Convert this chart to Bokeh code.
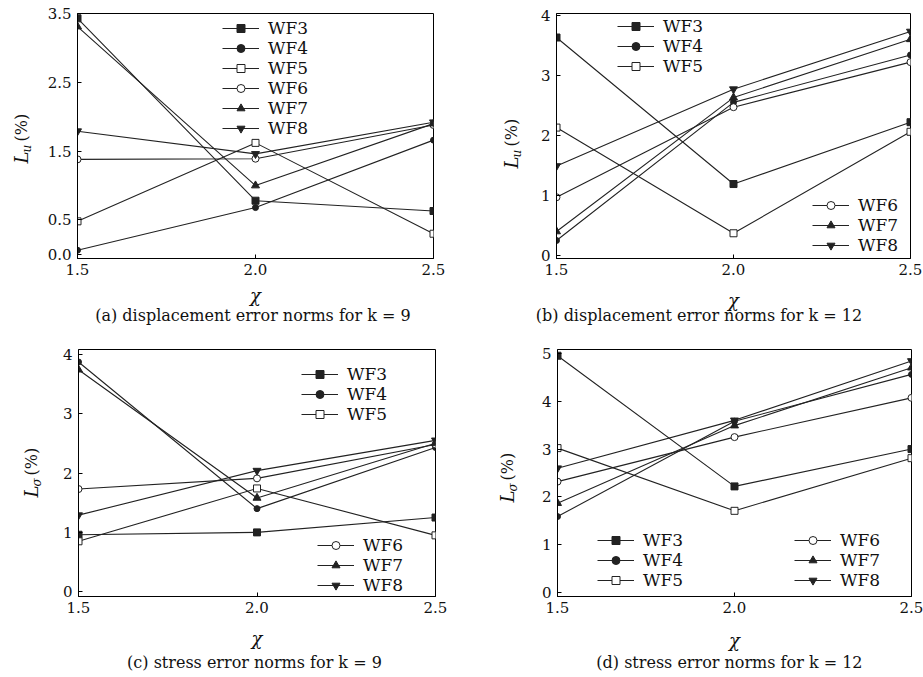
import math
from bokeh.plotting import figure
from bokeh.layouts import column, row
from bokeh.models import Range1d, FixedTicker, NumeralTickFormatter, Legend, LegendItem, Label
from bokeh.embed import file_html
from bokeh.resources import INLINE

# ---------------- data ----------------
chi = [1.5, 2.0, 2.5]
chi_ticks = [1.5, 2.0, 2.5]
series = ["WF3", "WF4", "WF5", "WF6", "WF7", "WF8"]

# (a) displacement error norms, k = 9
a_WF3 = [3.43, 0.78, 0.63]
a_WF4 = [0.06, 0.68, 1.66]
a_WF5 = [0.48, 1.62, 0.30]
a_WF6 = [1.38, 1.39, 1.88]
a_WF7 = [3.31, 1.00, 1.90]
a_WF8 = [1.79, 1.46, 1.92]
a_yticks = [0.0, 0.5, 1.5, 2.5, 3.5]

# (b) displacement error norms, k = 12
b_WF3 = [3.63, 1.19, 2.22]
b_WF4 = [0.25, 2.55, 3.34]
b_WF5 = [2.13, 0.37, 2.06]
b_WF6 = [0.97, 2.47, 3.22]
b_WF7 = [0.40, 2.63, 3.60]
b_WF8 = [1.49, 2.77, 3.73]
b_yticks = [0, 1, 2, 3, 4]

# (c) stress error norms, k = 9
c_WF3 = [0.96, 1.00, 1.25]
c_WF4 = [3.87, 1.40, 2.43]
c_WF5 = [0.85, 1.74, 0.95]
c_WF6 = [1.73, 1.91, 2.48]
c_WF7 = [3.74, 1.58, 2.50]
c_WF8 = [1.29, 2.04, 2.55]
c_yticks = [0, 1, 2, 3, 4]

# (d) stress error norms, k = 12
d_WF3 = [4.95, 2.22, 3.00]
d_WF4 = [1.59, 3.58, 4.56]
d_WF5 = [3.02, 1.71, 2.81]
d_WF6 = [2.32, 3.25, 4.07]
d_WF7 = [1.87, 3.49, 4.70]
d_WF8 = [2.60, 3.60, 4.84]
d_yticks = [0, 1, 2, 3, 4, 5]

captions = [
    "(a)  displacement error norms for k = 9",
    "(b)  displacement error norms for k = 12",
    "(c)  stress error norms for k = 9",
    "(d)  stress error norms  for k = 12",
]

# ---------------- styling ----------------
LINE = "#222222"
TXT = "#111111"
SERIF = "DejaVu Serif"
MARK = {
    "WF3": dict(marker="square", size=7, fill_color=LINE),
    "WF4": dict(marker="circle", size=6, fill_color=LINE),
    "WF5": dict(marker="square", size=7, fill_color="white"),
    "WF6": dict(marker="circle", size=7, fill_color="white"),
    "WF7": dict(marker="triangle", size=8, fill_color=LINE),
    "WF8": dict(marker="inverted_triangle", size=8, fill_color=LINE),
}


def panel(data, yr, yticks, yfmt, size, borders, legends, sub, ylab, caption, cap_dx, cap_dy,
          chi_dy, chi_side):
    W, H = size
    L, R, T, B = borders
    p = figure(width=W, height=H,
               min_border_left=L, min_border_right=R, min_border_top=T, min_border_bottom=B,
               x_range=Range1d(1.5, 2.5), y_range=Range1d(*yr),
               output_backend="svg", toolbar_location=None)
    p.grid.visible = False
    p.outline_line_color = "black"
    p.outline_line_width = 1
    for ax in (p.xaxis[0], p.yaxis[0]):
        ax.major_tick_in = 4
        ax.major_tick_out = 0
        ax.minor_tick_line_color = None
        ax.axis_line_color = "black"
        ax.major_tick_line_color = "black"
        ax.major_label_text_font = SERIF
        ax.major_label_text_font_size = "15px"
        ax.major_label_text_color = TXT
    p.xaxis.ticker = FixedTicker(ticks=chi_ticks)
    p.xaxis.formatter = NumeralTickFormatter(format="0.0")
    p.xaxis.major_label_standoff = 5
    p.yaxis.ticker = FixedTicker(ticks=yticks)
    p.yaxis.formatter = NumeralTickFormatter(format=yfmt)
    p.yaxis.major_label_standoff = 6

    rends = {}
    for name in series:
        ys = data[name]
        ln = p.line(chi, ys, line_color=LINE, line_width=1.1)
        m = MARK[name]
        sc = p.scatter(chi, ys, marker=m["marker"], size=m["size"], fill_color=m["fill_color"],
                       line_color=LINE, line_width=1)
        rends[name] = [ln, sc]

    for names, (lx, ly) in legends:
        items = [LegendItem(label=n, renderers=rends[n]) for n in names]
        lg = Legend(items=items, location=(lx, ly), orientation="vertical",
                    label_text_font=SERIF, label_text_font_size="17px", label_text_color=TXT,
                    glyph_width=37, glyph_height=20, label_height=20, spacing=0, padding=0, margin=0,
                    label_standoff=9, background_fill_alpha=0, border_line_alpha=0)
        p.add_layout(lg)

    # Texts outside the frame are kept in side panels (so they are not clipped);
    # they are positioned from the data coordinates plus pixel offsets.
    lx_off, ly_bot = ylab
    p.add_layout(Label(x=1.5, y=yr[0], x_offset=lx_off, y_offset=ly_bot, text="L",
                       angle=math.pi / 2, text_align="left", text_baseline="middle",
                       text_font=SERIF, text_font_style="italic", text_font_size="18px",
                       text_color=TXT), "left")
    p.add_layout(Label(x=1.5, y=yr[0], x_offset=lx_off, y_offset=ly_bot + 22, text="(%)",
                       angle=math.pi / 2, text_align="left", text_baseline="middle",
                       text_font=SERIF, text_font_size="16px", text_color=TXT), "left")
    p.add_layout(Label(x=1.5, y=yr[0], x_offset=lx_off + 5, y_offset=ly_bot + 11, text=sub,
                       angle=math.pi / 2, text_align="left", text_baseline="middle",
                       text_font=SERIF, text_font_style="italic", text_font_size="12px",
                       text_color=TXT), "below")
    p.add_layout(Label(x=2.0, y=yr[0], x_offset=cap_dx, y_offset=-cap_dy, text=caption,
                       text_align="center", text_baseline="middle",
                       text_font=SERIF, text_font_size="16px", text_color=TXT), "below")
    p.add_layout(Label(x=2.0, y=yr[0], y_offset=-chi_dy, text="χ",
                       text_align="center", text_baseline="middle",
                       text_font=SERIF, text_font_style="italic", text_font_size="18px",
                       text_color=TXT), chi_side)
    return p


def pack(prefix):
    g = globals()
    return {n: g[prefix + "_" + n] for n in series}


pa = panel(pack("a"), (-0.06, 3.5), a_yticks, "0.0", (460, 328), (77, 27, 13, 70),
           [(series, (145, 120))], "u", (-56, 95), captions[0], 0, 57, 37, "right")
pb = panel(pack("b"), (-0.05, 4.03), b_yticks, "0", (463, 328), (96, 13, 13, 68),
           [(series[:3], (61, 182)), (series[3:], (256, 3))], "u", (-45, 90), captions[1], -32, 57, 42, "left")
pc = panel(pack("c"), (-0.08, 4.08), c_yticks, "0", (460, 349), (78, 25, 20, 81),
           [(series[:3], (223, 172)), (series[3:], (239, 1))], "σ", (-47, 99), captions[2], 0, 66, 42, "left")
pd = panel(pack("d"), (-0.08, 5.08), d_yticks, "0", (463, 349), (97, 12, 21, 81),
           [(series[:3], (40, 6)), (series[3:], (237, 6))], "σ", (-50, 94), captions[3], 0, 66, 44, "left")

layout = column(row(pa, pb), row(pc, pd))
open("out.html", "w").write(file_html(layout, INLINE))
